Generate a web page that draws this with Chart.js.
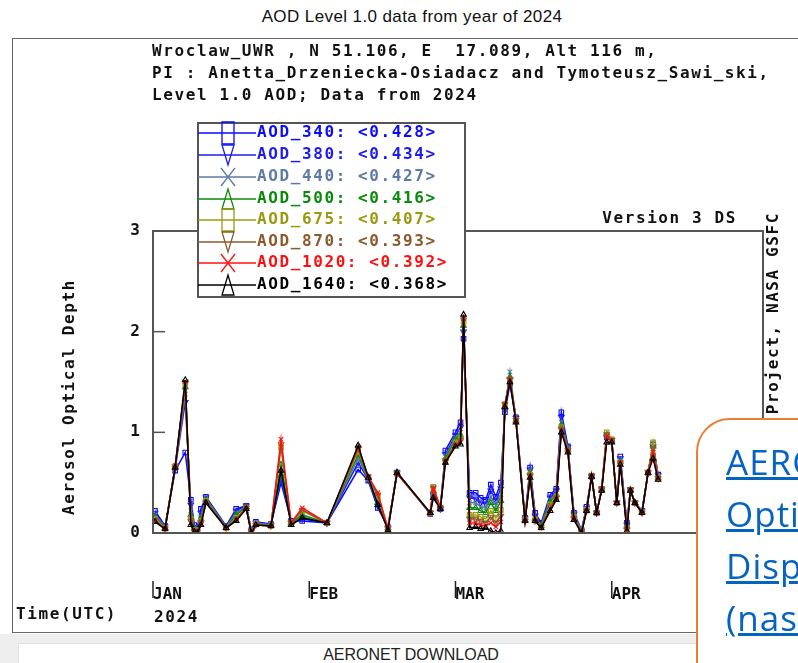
<!DOCTYPE html>
<html>
<head>
<meta charset="utf-8">
<script src="https://cdn.jsdelivr.net/npm/chart.js@4.4.1/dist/chart.umd.min.js"></script>
<style>
  html, body { margin: 0; padding: 0; background: #fff; overflow: hidden; }
  #wrap { position: relative; width: 798px; height: 663px; overflow: hidden; }
  #title { position: absolute; left: 0; top: 7px; width: 824px; text-align: center;
           font: 17px "Liberation Sans", Arial, sans-serif; letter-spacing: 0.4px; color: #111; }
  #frame { position: absolute; left: 12px; top: 38px; width: 900px; height: 593px; border: 1.5px solid #666; }
  #band { position: absolute; left: 0; top: 634px; width: 798px; height: 29px; background: #eeeeee; }
  #dl { position: absolute; left: 18px; top: 643px; width: 900px; height: 30px; background: #fff; border: 1px solid #e0e0e0; }
  #dltext { position: absolute; left: 0; top: 646px; width: 822px; text-align: center;
            font: 16px "Liberation Sans", Arial, sans-serif; color: #222; }
  canvas { position: absolute; left: 0; top: 0; }
  #note { position: absolute; left: 696px; top: 418px; width: 160px; height: 300px; background: #fff;
          border: 2.5px solid #ED7D31; border-radius: 34px; z-index: 5; white-space: nowrap;
          padding: 16px 0 0 28px; box-sizing: border-box;
          font-family: "Open Sans", "Noto Sans", sans-serif; font-size: 35px; letter-spacing: 1px; line-height: 52px; }
  #note a { color: #0563C1; text-decoration: underline; display: block; }
</style>
</head>
<body>
<div id="wrap">
  <div id="title">AOD Level 1.0 data from year of 2024</div>
  <div id="frame"></div>
  <div id="band"></div>
  <div id="dl"></div>
  <div id="dltext">AERONET DOWNLOAD</div>
  <canvas id="myChart" width="798" height="663"></canvas>
  <div id="note"><a>AERONET</a><a>Optical</a><a>Display</a><a>(nasa.gov)</a></div>
</div>
<script>
// day of year 2024 (0 = Jan 1)
const days = [0.4, 2.4, 4.4, 6.4, 7.5, 8.2, 8.8, 9.5, 10.5, 14.5,
  16.5, 18.5, 19.5, 20.4, 23.4, 25.4, 27.4, 29.6, 34.5, 40.7,
  42.7, 44.6, 46.6, 48.4, 55.0, 55.6, 57.0, 58.0, 60.0, 61.0,
  61.6, 62.8, 64.0, 65.0, 66.0, 67.0, 68.0, 69.0, 69.8, 70.8,
  72.0, 73.8, 74.8, 75.8, 77.0, 78.8, 80.0, 81.0, 82.3, 83.5,
  85.0, 86.0, 87.0, 88.0, 89.0, 90.0, 91.0, 92.0, 92.7, 94.0,
  94.7, 95.6, 97.0, 98.2, 99.2, 100.2];

const aod340 = [0.22, 0.07, 0.62, 0.80, 0.33, 0.08, 0.05, 0.24, 0.36, 0.07,
  0.24, 0.27, 0.03, 0.11, 0.09, 0.50, 0.12, 0.12, 0.10, 0.63,
  0.52, 0.25, 0.06, 0.60, 0.19, 0.36, 0.24, 0.82, 1.00, 1.10,
  1.93, 0.40, 0.40, 0.35, 0.33, 0.48, 0.36, 0.50, 1.20, 1.48,
  1.15, 0.15, 0.65, 0.20, 0.10, 0.38, 0.44, 1.20, 0.86, 0.20,
  0.03, 0.26, 0.56, 0.20, 0.43, 0.95, 0.92, 0.30, 0.76, 0.10,
  0.43, 0.30, 0.22, 0.60, 0.88, 0.58];
const aod380 = [0.20, 0.06, 0.64, 1.30, 0.28, 0.06, 0.04, 0.20, 0.35, 0.06,
  0.22, 0.27, 0.02, 0.10, 0.08, 0.55, 0.11, 0.14, 0.10, 0.70,
  0.53, 0.27, 0.05, 0.60, 0.20, 0.38, 0.24, 0.78, 0.97, 1.05,
  2.00, 0.35, 0.34, 0.30, 0.29, 0.42, 0.32, 0.44, 1.22, 1.52,
  1.14, 0.14, 0.63, 0.17, 0.09, 0.35, 0.42, 1.15, 0.85, 0.19,
  0.02, 0.25, 0.56, 0.20, 0.43, 0.96, 0.92, 0.30, 0.74, 0.08,
  0.43, 0.30, 0.22, 0.60, 0.86, 0.57];
const aod440 = [0.18, 0.06, 0.65, 1.38, 0.22, 0.05, 0.03, 0.16, 0.34, 0.06,
  0.20, 0.26, 0.02, 0.10, 0.08, 0.60, 0.10, 0.16, 0.10, 0.74,
  0.54, 0.28, 0.05, 0.60, 0.20, 0.40, 0.25, 0.76, 0.95, 1.00,
  2.03, 0.30, 0.30, 0.26, 0.25, 0.36, 0.27, 0.38, 1.24, 1.60,
  1.13, 0.14, 0.61, 0.15, 0.08, 0.33, 0.40, 1.10, 0.84, 0.18,
  0.02, 0.24, 0.56, 0.20, 0.43, 0.97, 0.92, 0.30, 0.72, 0.07,
  0.43, 0.30, 0.21, 0.60, 0.84, 0.56];
const aod500 = [0.16, 0.05, 0.66, 1.45, 0.18, 0.04, 0.02, 0.14, 0.33, 0.05,
  0.18, 0.26, 0.01, 0.09, 0.08, 0.68, 0.10, 0.18, 0.10, 0.78,
  0.55, 0.30, 0.05, 0.60, 0.20, 0.42, 0.25, 0.74, 0.93, 0.97,
  2.06, 0.25, 0.25, 0.22, 0.20, 0.30, 0.22, 0.32, 1.26, 1.55,
  1.12, 0.13, 0.60, 0.14, 0.07, 0.31, 0.38, 1.07, 0.83, 0.17,
  0.01, 0.23, 0.56, 0.20, 0.43, 0.98, 0.92, 0.30, 0.71, 0.06,
  0.43, 0.30, 0.21, 0.60, 0.86, 0.55];
const aod675 = [0.14, 0.05, 0.66, 1.48, 0.14, 0.03, 0.02, 0.12, 0.32, 0.05,
  0.15, 0.25, 0.01, 0.09, 0.07, 0.85, 0.10, 0.22, 0.10, 0.82,
  0.55, 0.36, 0.05, 0.59, 0.20, 0.46, 0.25, 0.72, 0.90, 0.94,
  2.10, 0.18, 0.18, 0.16, 0.14, 0.22, 0.15, 0.23, 1.28, 1.52,
  1.12, 0.13, 0.58, 0.13, 0.06, 0.28, 0.36, 1.05, 0.82, 0.16,
  0.01, 0.23, 0.57, 0.20, 0.44, 1.00, 0.93, 0.30, 0.70, 0.05,
  0.43, 0.30, 0.21, 0.60, 0.90, 0.55];
const aod870 = [0.13, 0.04, 0.66, 1.50, 0.12, 0.02, 0.01, 0.10, 0.31, 0.05,
  0.14, 0.25, 0.01, 0.08, 0.07, 0.88, 0.10, 0.23, 0.10, 0.84,
  0.56, 0.38, 0.04, 0.59, 0.20, 0.45, 0.25, 0.72, 0.88, 0.92,
  2.12, 0.14, 0.14, 0.12, 0.10, 0.16, 0.10, 0.17, 1.28, 1.53,
  1.12, 0.12, 0.57, 0.12, 0.06, 0.26, 0.35, 1.03, 0.82, 0.15,
  0.00, 0.22, 0.57, 0.20, 0.44, 0.98, 0.92, 0.30, 0.70, 0.04,
  0.43, 0.30, 0.20, 0.60, 0.84, 0.54];
const aod1020 = [0.12, 0.04, 0.67, 1.50, 0.10, 0.02, 0.01, 0.09, 0.30, 0.05,
  0.13, 0.25, 0.00, 0.08, 0.07, 0.93, 0.10, 0.25, 0.10, 0.85,
  0.56, 0.40, 0.04, 0.59, 0.20, 0.44, 0.25, 0.70, 0.87, 0.90,
  2.13, 0.10, 0.10, 0.08, 0.07, 0.10, 0.06, 0.11, 1.27, 1.52,
  1.11, 0.12, 0.56, 0.12, 0.05, 0.24, 0.34, 1.02, 0.81, 0.14,
  0.00, 0.22, 0.57, 0.20, 0.44, 0.96, 0.92, 0.30, 0.70, 0.03,
  0.43, 0.30, 0.20, 0.60, 0.80, 0.54];
const aod1640 = [0.11, 0.04, 0.65, 1.52, 0.08, 0.01, 0.00, 0.08, 0.30, 0.05,
  0.12, 0.24, 0.00, 0.08, 0.07, 0.62, 0.08, 0.15, 0.10, 0.87,
  0.55, 0.28, 0.03, 0.60, 0.20, 0.35, 0.24, 0.70, 0.86, 0.88,
  2.17, 0.05, 0.06, 0.04, 0.05, 0.02, 0.00, 0.02, 1.25, 1.50,
  1.10, 0.12, 0.55, 0.12, 0.05, 0.22, 0.33, 1.00, 0.80, 0.13,
  0.00, 0.22, 0.56, 0.20, 0.42, 0.90, 0.90, 0.30, 0.68, 0.02,
  0.42, 0.30, 0.20, 0.60, 0.74, 0.53];

const seriesNames = ['AOD_340', 'AOD_380', 'AOD_440', 'AOD_500', 'AOD_675', 'AOD_870', 'AOD_1020', 'AOD_1640'];
const meanAod = ['0.428', '0.434', '0.427', '0.416', '0.407', '0.393', '0.392', '0.368'];
const monthStarts = [0, 31, 60, 91];
const monthLabels = ['JAN', 'FEB', 'MAR', 'APR'];
const yTicks = [0, 1, 2, 3];

const allSeries = [aod340, aod380, aod440, aod500, aod675, aod870, aod1020, aod1640];
const colors = ['#0a0aff', '#1c1cf0', '#5b7aa6', '#0a8a0a', '#9a9a10', '#8b5a2b', '#ff1010', '#000000'];
const shapes = ['rect', 'triangle', 'crossRot', 'triangle', 'rect', 'triangle', 'crossRot', 'triangle'];
const rotations = [0, 180, 0, 0, 0, 180, 0, 0];

const MONO = '"DejaVu Sans Mono", "Liberation Mono", monospace';

function drawMarker(ctx, shape, rot, cx, cy) {
  ctx.beginPath();
  if (shape === 'rect') {
    ctx.rect(cx - 6, cy - 11, 12, 22);
  } else if (shape === 'crossRot') {
    ctx.moveTo(cx - 7, cy - 9); ctx.lineTo(cx + 7, cy + 9);
    ctx.moveTo(cx + 7, cy - 9); ctx.lineTo(cx - 7, cy + 9);
  } else if (rot === 180) {
    ctx.moveTo(cx - 6, cy - 10); ctx.lineTo(cx + 6, cy - 10); ctx.lineTo(cx, cy + 10); ctx.closePath();
  } else {
    ctx.moveTo(cx - 6, cy + 10); ctx.lineTo(cx + 6, cy + 10); ctx.lineTo(cx, cy - 10); ctx.closePath();
  }
  ctx.stroke();
}

const decor = {
  id: 'decor',
  afterDraw(chart) {
    const ctx = chart.ctx;
    const a = chart.chartArea;
    const ys = chart.scales.y, xs = chart.scales.x;
    ctx.save();
    // plot box
    ctx.strokeStyle = '#555';
    ctx.lineWidth = 2;
    ctx.strokeRect(a.left, a.top, a.right - a.left, a.bottom - a.top);
    // inward ticks on the left axis
    ctx.lineWidth = 1.5;
    yTicks.forEach(v => {
      const py = ys.getPixelForValue(v);
      ctx.beginPath(); ctx.moveTo(a.left, py); ctx.lineTo(a.left + 12, py); ctx.stroke();
    });
    // month marks beside the labels
    ctx.strokeStyle = '#222';
    monthStarts.forEach(v => {
      const px = xs.getPixelForValue(v);
      ctx.beginPath(); ctx.moveTo(px, a.bottom + 48); ctx.lineTo(px, a.bottom + 65); ctx.stroke();
    });

    ctx.fillStyle = '#111';
    ctx.font = 'bold 16px ' + MONO;
    ctx.letterSpacing = '1.6px';
    ctx.textBaseline = 'middle';
    ctx.textAlign = 'left';
    ctx.fillText('Wroclaw_UWR , N 51.106, E  17.089, Alt 116 m,', 152, 52);
    ctx.fillText('PI : Anetta_Drzeniecka-Osiadacz and Tymoteusz_Sawi_ski,', 152, 74);
    ctx.fillText('Level 1.0 AOD; Data from 2024', 152, 96);
    ctx.fillText('Time(UTC)', 16, 615);
    ctx.fillText('2024', 154, 618);
    ctx.textAlign = 'right';
    ctx.fillText('Version 3 DS', 737, 219);

    // axis title
    ctx.save();
    ctx.translate(70, 397);
    ctx.rotate(-Math.PI / 2);
    ctx.textAlign = 'center';
    ctx.fillText('Aerosol Optical Depth', 0, 0);
    ctx.restore();

    // right side credit
    ctx.save();
    ctx.translate(774, 212);
    ctx.rotate(-Math.PI / 2);
    ctx.textAlign = 'right';
    ctx.fillText('AERONET Project, NASA GSFC', 0, 0);
    ctx.restore();

    // legend box
    const bx = 198, by = 123, bw = 267, bh = 174;
    const rows = [133, 155, 177, 199, 220, 242, 263, 285];
    ctx.fillStyle = '#fff';
    ctx.fillRect(bx, by, bw, bh);
    ctx.strokeStyle = '#555';
    ctx.lineWidth = 2;
    ctx.strokeRect(bx, by, bw, bh);
    ctx.textAlign = 'left';
    rows.forEach((ry, i) => {
      ctx.strokeStyle = colors[i];
      ctx.lineWidth = 1.5;
      ctx.beginPath(); ctx.moveTo(bx, ry); ctx.lineTo(bx + 58, ry); ctx.stroke();
      ctx.lineWidth = 1.3;
      drawMarker(ctx, shapes[i], rotations[i], bx + 30, ry);
      ctx.fillStyle = colors[i];
      ctx.fillText(seriesNames[i] + ': <' + meanAod[i] + '>', bx + 59, ry);
    });
    ctx.restore();
  }
};

window.addEventListener('DOMContentLoaded', () => {
  const ctx = document.getElementById('myChart');

  const datasets = allSeries.map((vals, i) => ({
    label: seriesNames[i],
    data: days.map((d, k) => ({ x: d, y: vals[k] })),
    borderColor: colors[i],
    borderWidth: 1.5,
    pointStyle: shapes[i],
    rotation: rotations[i],
    pointRadius: 3.2,
    pointBorderWidth: 1.1,
    pointBorderColor: colors[i],
    pointBackgroundColor: 'rgba(0,0,0,0)',
    tension: 0,
    order: allSeries.length - 1 - i
  }));

  new Chart(ctx, {
    type: 'line',
    data: { datasets: datasets },
    options: {
      responsive: false,
      animation: false,
      events: [],
      layout: { padding: { left: 113, right: 35, top: 231, bottom: 40 } },
      scales: {
        x: {
          type: 'linear',
          min: 0,
          max: 121,
          afterFit: s => { s.height = 90; },
          afterBuildTicks: s => { s.ticks = monthStarts.map(v => ({ value: v })); },
          grid: { display: false, drawTicks: false },
          border: { display: false },
          ticks: {
            align: 'start',
            padding: 52,
            color: '#111',
            font: { family: MONO, size: 16, weight: 'bold' },
            callback: v => monthLabels[monthStarts.indexOf(v)]
          }
        },
        y: {
          min: 0,
          max: 3,
          afterFit: s => { s.width = 40; },
          afterBuildTicks: s => { s.ticks = yTicks.map(v => ({ value: v })); },
          grid: { display: false, drawTicks: false },
          border: { display: false },
          ticks: {
            padding: 13,
            color: '#111',
            font: { family: MONO, size: 16, weight: 'bold' }
          }
        }
      },
      plugins: {
        legend: { display: false },
        title: { display: false },
        tooltip: { enabled: false }
      }
    },
    plugins: [decor]
  });
});
</script>
</body>
</html>
